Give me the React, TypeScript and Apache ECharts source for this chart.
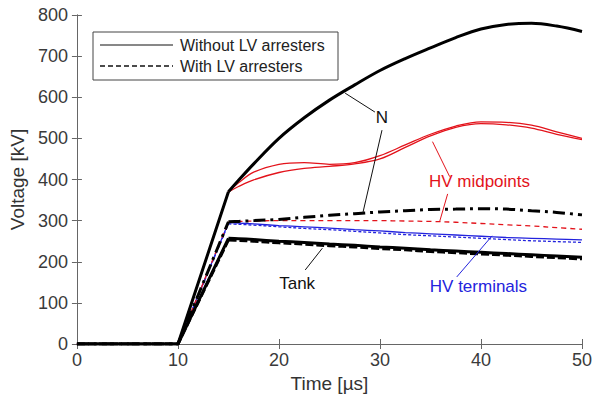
import React, { useEffect, useRef } from "react";
import * as echarts from "echarts";

// rising front (straight segments)
const riseTime = [0, 10, 15];
// tail after the front (smooth curves)
const tailTime = [15, 16, 17.5, 20, 22.5, 25, 27.5, 30, 32.5, 35, 37.5, 40, 42.5, 45, 47.5, 50];

const nWithout = [370, 398, 438, 500, 550, 593, 630, 665, 694, 720, 745, 766, 777, 780, 773, 760];
const midUpper = [370, 392, 418, 437, 441, 437, 441, 458, 484, 510, 530, 540, 539, 532, 516, 500];
const midLower = [370, 383, 399, 417, 427, 432, 438, 450, 478, 506, 527, 536, 533, 525, 510, 497];
const nWith = [297, 298, 300, 303, 308, 313, 317, 321, 324, 327, 328, 329, 328, 324, 320, 314];
const midWith = [297, 298, 299, 300, 300, 300, 300, 300, 299, 298, 296, 293, 290, 287, 283, 279];
const termWithout = [295, 294, 292, 288, 285, 282, 278, 275, 271, 268, 265, 262, 259, 257, 255, 253];
const termWith = [292, 291, 289, 285, 281, 278, 274, 270, 266, 263, 260, 257, 254, 251, 249, 247];
const tankWithout = [257, 256, 254, 250, 247, 243, 240, 236, 233, 229, 226, 223, 220, 217, 214, 211];
const tankWith = [253, 252, 250, 246, 243, 239, 236, 232, 229, 225, 222, 219, 216, 213, 210, 207];

const xTicks = [0, 10, 20, 30, 40, 50];
const yTicks = [0, 100, 200, 300, 400, 500, 600, 700, 800];

// annotations in data coordinates
const labels = [
  { text: "N", x: 30.2, y: 550, color: "#111" },
  { text: "HV midpoints", x: 39.85, y: 394, color: "#e3131b" },
  { text: "Tank", x: 21.8, y: 148, color: "#111" },
  { text: "HV terminals", x: 39.75, y: 139, color: "#2323dd" },
];
const leaders = [
  { from: [26.55, 610], to: [29.5, 564], color: "#111" },
  { from: [30.2, 520], to: [28.3, 318], color: "#111" },
  { from: [35.2, 492], to: [36.9, 407], color: "#e3131b" },
  { from: [36.7, 365], to: [35.9, 297], color: "#e3131b" },
  { from: [22.6, 180], to: [24.3, 233], color: "#111" },
  { from: [37.6, 163], to: [41.1, 263], color: "#2323dd" },
];

const FONT = "'Liberation Sans', Arial, sans-serif";
const RED = "#e3131b";
const BLUE = "#2323dd";

export default function App() {
  const ref = useRef<HTMLDivElement>(null);
  useEffect(() => {
    if (!ref.current) return;
    const chart = echarts.init(ref.current, null, { renderer: "svg" });
    const axisColor = "#666";
    const mkLine = (name: string, tail: number[], color: string, width: number, type: any, z = 2) => [
      {
        name: name + " front",
        type: "line",
        data: riseTime.map((t, i) => [t, i < 2 ? 0 : tail[0]]),
        symbol: "none",
        z,
        lineStyle: { color, width, type },
      },
      {
        name,
        type: "line",
        data: tailTime.map((t, i) => [t, tail[i]]),
        symbol: "none",
        smooth: 0.35,
        z,
        lineStyle: { color, width, type },
      },
    ];
    const axisCommon = {
      axisLine: { show: true, lineStyle: { color: axisColor } },
      axisTick: { show: true, inside: true, length: 5, lineStyle: { color: axisColor } },
      splitLine: { show: false },
    };
    chart.setOption({
      animation: false,
      backgroundColor: "#fff",
      textStyle: { fontFamily: FONT },
      grid: { left: 75, right: 12, top: 15, bottom: 56 },
      xAxis: [
        {
          type: "value",
          min: xTicks[0],
          max: xTicks[xTicks.length - 1],
          interval: 10,
          name: "Time [µs]",
          nameLocation: "middle",
          nameGap: 30,
          nameTextStyle: { fontSize: 19, color: "#333", fontFamily: FONT },
          axisLabel: { fontSize: 18, color: "#3a3a3a", margin: 7, fontFamily: FONT },
          ...axisCommon,
        },
        {
          type: "value",
          position: "top",
          min: xTicks[0],
          max: xTicks[xTicks.length - 1],
          interval: 10,
          axisLabel: { show: false },
          ...axisCommon,
        },
      ],
      yAxis: [
        {
          type: "value",
          min: yTicks[0],
          max: yTicks[yTicks.length - 1],
          interval: 100,
          name: "Voltage [kV]",
          nameLocation: "middle",
          nameGap: 48,
          nameTextStyle: { fontSize: 19, color: "#333", fontFamily: FONT },
          axisLabel: { fontSize: 18, color: "#3a3a3a", margin: 9, fontFamily: FONT },
          ...axisCommon,
        },
        {
          type: "value",
          position: "right",
          min: yTicks[0],
          max: yTicks[yTicks.length - 1],
          interval: 100,
          axisLabel: { show: false },
          ...axisCommon,
        },
      ],
      series: [
        ...mkLine("HV terminals (with)", termWith, BLUE, 1.3, [3, 2]),
        ...mkLine("HV terminals (without)", termWithout, BLUE, 1.3, "solid"),
        ...mkLine("HV midpoints (with)", midWith, RED, 1.3, [5, 4]),
        ...mkLine("HV midpoints A", midUpper, RED, 1.3, "solid"),
        ...mkLine("HV midpoints B", midLower, RED, 1.3, "solid"),
        ...mkLine("Tank (with)", tankWith, "#000", 3, [8, 3], 3),
        ...mkLine("Tank (without)", tankWithout, "#000", 3, "solid", 3),
        ...mkLine("N (with)", nWith, "#000", 3, [12, 5, 3, 5], 3),
        ...mkLine("N (without)", nWithout, "#000", 3, "solid", 4),
      ],
    });

    const toPx = (p: number[]) => chart.convertToPixel({ gridIndex: 0 }, p) as number[];
    const graphic: any[] = [];
    leaders.forEach((l) => {
      const a = toPx(l.from);
      const b = toPx(l.to);
      graphic.push({
        type: "line",
        shape: { x1: a[0], y1: a[1], x2: b[0], y2: b[1] },
        style: { stroke: l.color, lineWidth: 1 },
        z: 100,
      });
    });
    labels.forEach((l) => {
      const p = toPx([l.x, l.y]);
      graphic.push({
        type: "text",
        x: p[0],
        y: p[1],
        style: {
          text: l.text,
          fill: l.color,
          fontSize: 17,
          fontFamily: FONT,
          align: "center",
          verticalAlign: "middle",
        },
        z: 100,
      });
    });
    // legend box
    graphic.push(
      {
        type: "rect",
        shape: { x: 93, y: 32, width: 245, height: 48 },
        style: { fill: "#fff", stroke: "#444", lineWidth: 1 },
        z: 100,
      },
      {
        type: "line",
        shape: { x1: 100, y1: 45, x2: 173, y2: 45 },
        style: { stroke: "#111", lineWidth: 1 },
        z: 101,
      },
      {
        type: "line",
        shape: { x1: 100, y1: 66, x2: 173, y2: 66 },
        style: { stroke: "#111", lineWidth: 1.3, lineDash: [5, 3] },
        z: 101,
      },
      {
        type: "text",
        x: 180,
        y: 45,
        style: { text: "Without LV arresters", fill: "#222", fontSize: 16, fontFamily: FONT, verticalAlign: "middle" },
        z: 101,
      },
      {
        type: "text",
        x: 180,
        y: 66,
        style: { text: "With LV arresters", fill: "#222", fontSize: 16, fontFamily: FONT, verticalAlign: "middle" },
        z: 101,
      }
    );
    chart.setOption({ graphic });
    return () => chart.dispose();
  }, []);
  return <div ref={ref} style={{ position: "absolute", left: 0, top: 0, width: 595, height: 400 }} />;
}
